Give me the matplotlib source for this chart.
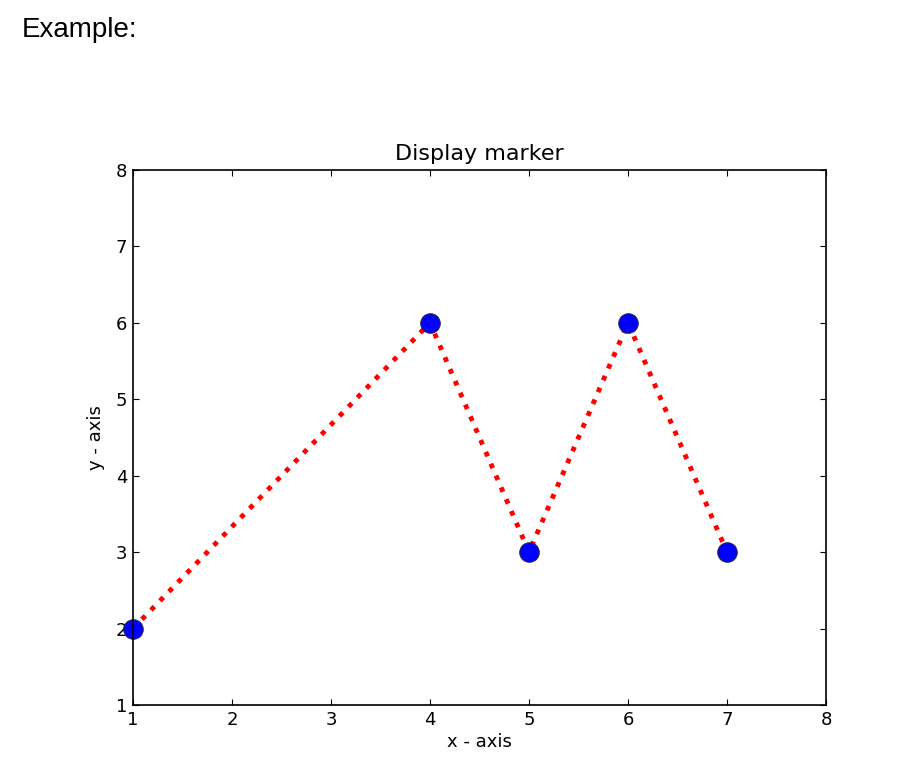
import matplotlib
matplotlib.use('Agg')
import matplotlib.pyplot as plt

x = [1, 4, 5, 6, 7]
y = [2, 6, 3, 6, 3]
ticks = [1, 2, 3, 4, 5, 6, 7, 8]

fig = plt.figure(figsize=(9, 7.79), dpi=100, facecolor='white')
ax = fig.add_axes([0.1478, 0.0950, 0.7700, 0.6868])

ax.plot(x, y, color='red', linestyle=':', linewidth=3.5,
        marker='o', markersize=14, markerfacecolor='blue',
        markeredgecolor='#202060', markeredgewidth=0.8, clip_on=False)

ax.set_xlim(1, 8)
ax.set_ylim(1, 8)
ax.set_xticks(ticks)
ax.set_yticks(ticks)
ax.tick_params(direction='in', top=True, right=True, length=4, labelsize=13, pad=4)
for s in ax.spines.values():
    s.set_linewidth(1.2)

ax.set_title("Display marker", fontsize=16, pad=7)
ax.set_xlabel("x - axis", fontsize=13, labelpad=3)
ax.set_ylabel("y - axis", fontsize=13, labelpad=8)

fig.text(22/900, 1 - 30/779, "Example:", fontsize=20, family='Liberation Sans', va='center', ha='left')

plt.savefig("out.png", dpi=100)
